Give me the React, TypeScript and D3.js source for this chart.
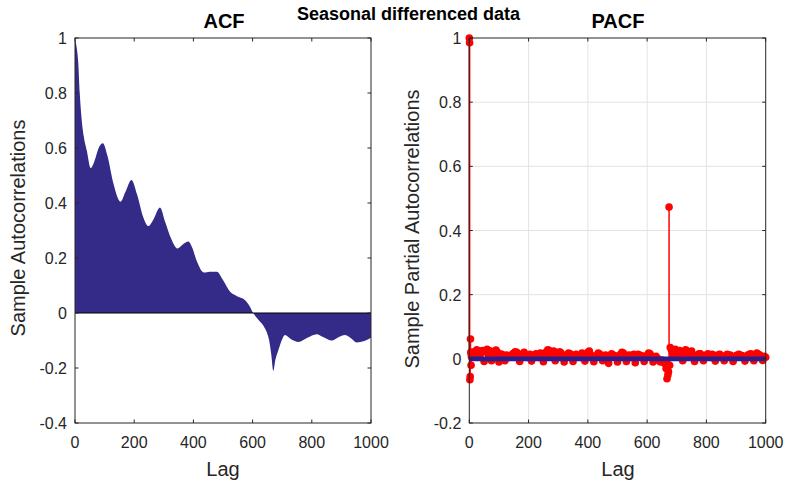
import React from "react";
import * as d3 from "d3";

// ACF: lag, value
const acfLags = [0, 5, 11, 16, 22, 30, 40, 53, 65, 80, 94, 110, 130, 154, 170, 191, 210, 230, 248, 265, 287, 305, 325, 346, 365, 383, 395, 411, 436, 455, 479, 500, 524, 546, 574, 590, 602, 620, 636, 648, 656, 663, 670, 677, 687, 700, 709, 730, 755, 785, 816, 840, 867, 890, 912, 930, 952, 975, 1000];
const acfValues = [1.0, 0.97, 0.91, 0.8, 0.71, 0.64, 0.59, 0.527, 0.55, 0.6, 0.617, 0.57, 0.47, 0.405, 0.44, 0.484, 0.43, 0.35, 0.316, 0.34, 0.384, 0.33, 0.27, 0.235, 0.25, 0.26, 0.24, 0.19, 0.147, 0.15, 0.15, 0.12, 0.077, 0.062, 0.047, 0.025, 0.0, -0.025, -0.045, -0.07, -0.1, -0.15, -0.21, -0.17, -0.135, -0.095, -0.08, -0.095, -0.105, -0.09, -0.077, -0.088, -0.1, -0.088, -0.08, -0.09, -0.107, -0.103, -0.09];

// PACF: lags near the start and around the seasonal spike
const pacfLagsA = [0, 1, 2, 3, 4, 5, 6, 7, 8, 10, 15, 20, 25, 30, 35, 40, 45, 50, 55, 60, 65, 70, 75, 80, 85, 90, 95];
const pacfValuesA = [1.0, 0.985, -0.065, -0.055, 0.062, 0.02, -0.02, 0.01, 0.005, 0.015, 0.022, 0.02, 0.028, 0.01, 0.024, 0.018, 0.026, -0.008, 0.022, 0.03, 0.012, 0.025, -0.006, 0.022, 0.018, 0.027, 0.02];
// lags 100..640 every 5
const pacfValuesB = [
  -0.01, 0.015, 0.014, 0.006, -0.006, 0.012, 0.01, 0.004, 0.008, 0.014,
  0.018, 0.022, 0.02, 0.006, -0.008, 0.01, 0.016, 0.02, 0.012, 0.004,
  0.01, 0.014, -0.007, 0.006, 0.008, 0.016, 0.012, 0.004, 0.018, 0.01,
  -0.009, 0.012, 0.022, 0.028, 0.026, 0.014, 0.02, 0.024, -0.006, 0.008,
  0.015, 0.022, 0.018, 0.006, -0.01, 0.004, 0.012, 0.018, 0.016, 0.006,
  -0.008, 0.01, 0.014, 0.008, 0.01, 0.004, 0.018, 0.012, -0.007, 0.01,
  0.02, 0.024, 0.012, 0.006, -0.009, 0.008, 0.01, 0.018, 0.015, 0.004,
  -0.006, 0.01, 0.012, 0.006, -0.014, 0.004, 0.016, 0.012, 0.01, 0.004,
  -0.01, 0.008, 0.014, 0.02, 0.018, 0.006, -0.008, 0.01, 0.012, 0.004,
  0.01, 0.014, -0.012, 0.006, 0.014, 0.01, 0.01, 0.004, -0.008, 0.006,
  0.012, 0.018, 0.016, 0.008, -0.01, 0.004, 0.008, 0.002, -0.006
];
const pacfLagsC = [645, 650, 655, 660, 664, 667, 670, 672, 674, 676, 678, 682, 686];
const pacfValuesC = [-0.01, -0.004, -0.008, -0.015, -0.03, -0.062, -0.05, -0.04, 0.473, -0.02, 0.035, 0.028, 0.02];
// lags 690..1000 every 5
const pacfValuesD = [
  0.022, 0.03, 0.018, 0.012, 0.026, 0.016, -0.006, 0.02, 0.028, 0.024,
  0.02, 0.012, 0.024, 0.006, -0.008, 0.008, 0.012, 0.016, 0.016, 0.006,
  -0.006, 0.01, 0.012, 0.016, 0.01, 0.004, 0.014, 0.008, -0.007, 0.01,
  0.012, 0.014, 0.01, 0.004, -0.006, 0.008, 0.014, 0.01, 0.012, 0.006,
  -0.008, 0.006, 0.01, 0.012, 0.014, 0.008, 0.01, 0.004, -0.007, 0.008,
  0.012, 0.014, 0.016, 0.01, -0.006, 0.012, 0.018, 0.014, 0.012, 0.006,
  -0.005, 0.008, 0.005
];
const pacfBounds = [-0.0035, 0.0035];

const xTicks = [0, 200, 400, 600, 800, 1000];
const acfYTicks = [-0.4, -0.2, 0, 0.2, 0.4, 0.6, 0.8, 1];
const pacfYTicks = [-0.2, 0, 0.2, 0.4, 0.6, 0.8, 1];

const FONT = "'Liberation Sans', Arial, Helvetica, sans-serif";
const AXC = "#262626";

const W = 785, H = 486;
const TOP = 38, BOT = 423;

function Grid({ x, y, yTicks }: any) {
  const [x0, x1] = x.range();
  const [yb, yt] = y.range();
  return (
    <g>
      {xTicks.slice(1, -1).map((t) => (
        <line key={"gx" + t} x1={x(t)} x2={x(t)} y1={yt} y2={yb} stroke="#e3e3e3" strokeWidth={1} />
      ))}
      {yTicks.slice(1, -1).map((t: number) => (
        <line key={"gy" + t} x1={x0} x2={x1} y1={y(t)} y2={y(t)} stroke="#e3e3e3" strokeWidth={1} />
      ))}
    </g>
  );
}

function Box({ x, y, yTicks }: any) {
  const [x0, x1] = x.range();
  const [yb, yt] = y.range();
  const tl = 3.5;
  return (
    <g>
      <rect x={x0} y={yt} width={x1 - x0} height={yb - yt} fill="none" stroke={AXC} strokeWidth={1} />
      {xTicks.map((t) => (
        <g key={"xt" + t}>
          <line x1={x(t)} x2={x(t)} y1={yb} y2={yb - tl} stroke={AXC} />
          <line x1={x(t)} x2={x(t)} y1={yt} y2={yt + tl} stroke={AXC} />
          <text x={x(t)} y={yb + 25} textAnchor="middle" fontSize={16} fill={AXC} fontFamily={FONT}>{t}</text>
        </g>
      ))}
      {yTicks.map((t: number) => (
        <g key={"yt" + t}>
          <line x1={x0} x2={x0 + tl} y1={y(t)} y2={y(t)} stroke={AXC} />
          <line x1={x1} x2={x1 - tl} y1={y(t)} y2={y(t)} stroke={AXC} />
          <text x={x0 - 8} y={y(t) + 6} textAnchor="end" fontSize={16} fill={AXC} fontFamily={FONT}>{String(t)}</text>
        </g>
      ))}
    </g>
  );
}

export default function App() {
  const xL = d3.scaleLinear().domain([0, 1000]).range([75, 371]);
  const yL = d3.scaleLinear().domain([-0.4, 1]).range([BOT, TOP]);
  const xR = d3.scaleLinear().domain([0, 1000]).range([469.3, 765.7]);
  const yR = d3.scaleLinear().domain([-0.2, 1]).range([BOT, TOP]);

  const acfData = acfLags.map((l, i) => [l, acfValues[i]] as [number, number]);
  const area = d3.area<[number, number]>()
    .x((d) => xL(d[0]))
    .y0(yL(0))
    .y1((d) => yL(d[1]))
    .curve(d3.curveMonotoneX);

  const lagsB = d3.range(100, 641, 5);
  const lagsD = d3.range(690, 1001, 5);
  const pacfData: [number, number][] = [
    ...pacfLagsA.map((l, i) => [l, pacfValuesA[i]] as [number, number]),
    ...lagsB.map((l, i) => [l, pacfValuesB[i]] as [number, number]),
    ...pacfLagsC.map((l, i) => [l, pacfValuesC[i]] as [number, number]),
    ...lagsD.map((l, i) => [l, pacfValuesD[i]] as [number, number]),
  ].filter((d) => d[1] !== undefined);

  return (
    <svg width={W} height={H} style={{ position: "absolute", left: 0, top: 0, background: "#fff" }}>
      <rect x={0} y={0} width={W} height={H} fill="#fff" />
      {/* ACF */}
      <path d={area(acfData) || ""} fill="#342a87" stroke="none" />
      <line x1={xL(0)} x2={xL(1000)} y1={yL(0)} y2={yL(0)} stroke="#000" strokeWidth={1} />
      <Box x={xL} y={yL} yTicks={acfYTicks} />
      <text x={224} y={28} textAnchor="middle" fontSize={20} fontWeight="bold" fill="#000" fontFamily={FONT}>ACF</text>
      <text transform="translate(25,228) rotate(-90)" textAnchor="middle" fontSize={20} fill={AXC} fontFamily={FONT}>Sample Autocorrelations</text>
      <text x={223} y={476} textAnchor="middle" fontSize={20} fill={AXC} fontFamily={FONT}>Lag</text>

      {/* PACF */}
      <Grid x={xR} y={yR} yTicks={pacfYTicks} />
      {pacfData.map((d, i) => (
        <line key={"s" + i} x1={xR(d[0])} x2={xR(d[0])} y1={yR(0)} y2={yR(d[1])} stroke="#ff0000" strokeWidth={1.5} />
      ))}
      {pacfData.map((d, i) => (
        <circle key={"c" + i} cx={xR(d[0])} cy={yR(d[1])} r={3.8} fill="#ff0000" />
      ))}
      {pacfBounds.map((b, i) => (
        <line key={"b" + i} x1={xR(0)} x2={xR(1000)} y1={yR(b)} y2={yR(b)} stroke="#2b1f8f" strokeWidth={2.4} />
      ))}
      <Box x={xR} y={yR} yTicks={pacfYTicks} />
      <text x={618} y={28} textAnchor="middle" fontSize={20} fontWeight="bold" fill="#000" fontFamily={FONT}>PACF</text>
      <text transform="translate(419,229) rotate(-90)" textAnchor="middle" fontSize={20} fill={AXC} fontFamily={FONT}>Sample Partial Autocorrelations</text>
      <text x={618} y={476} textAnchor="middle" fontSize={20} fill={AXC} fontFamily={FONT}>Lag</text>

      <text x={408.5} y={20} textAnchor="middle" fontSize={18} fontWeight="bold" fill="#000" fontFamily={FONT}>Seasonal differenced data</text>
    </svg>
  );
}
